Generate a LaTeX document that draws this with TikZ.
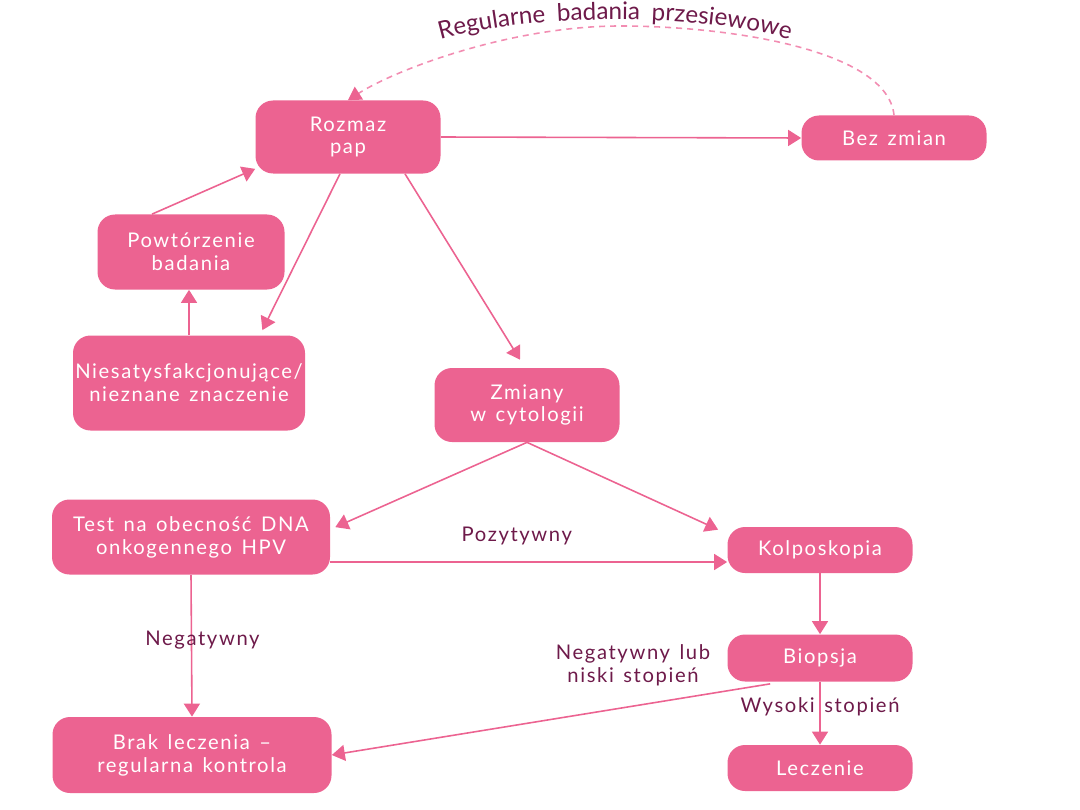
\documentclass[tikz,border=0pt]{standalone}
\usepackage{fontspec}
\setmainfont{Lato}[LetterSpace=8,WordSpace=1.4]
\usepackage{tikz}
\usetikzlibrary{arrows.meta, calc, decorations.text}
\definecolor{roz}{HTML}{EC6391}
\definecolor{rozjasny}{HTML}{F28DB2}
\definecolor{sliwka}{HTML}{6E1A4A}

\begin{document}
\begin{tikzpicture}[scale=1,
  box/.style={draw=none,fill=roz,rounded corners=0.35cm,text=white,align=center,
    font=\fontsize{11.5}{13}\selectfont,inner sep=0pt},
  strz/.style={roz,line width=0.9pt,-{Triangle[width=0.32cm,length=0.26cm]}},
  opis/.style={text=sliwka,align=center,font=\fontsize{11.5}{13}\selectfont}]
  \useasboundingbox (0,0) rectangle (21.6,-16.2);
  \node[box,minimum width=3.7cm,minimum height=1.46cm] (a) at (6.96,-2.74) {Rozmaz\\pap};
  \node[box,minimum width=3.7cm,minimum height=0.9cm] (b) at (17.88,-2.76) {Bez zmian};
  \node[box,minimum width=3.74cm,minimum height=1.5cm] (c) at (3.82,-5.04) {Powtórzenie\\badania};
  \node[box,minimum width=4.64cm,minimum height=1.9cm] (d) at (3.78,-7.66) {Niesatysfakcjonujące/\\nieznane znaczenie};
  \draw[strz] ([xshift=-0.78cm]c.north) -- ([yshift=0.1cm]a.south west);
  \draw[strz] (d.north) -- (d.north |- c.south);
  \draw[strz] ([xshift=-0.16cm]a.south) -- ([xshift=-0.86cm,yshift=0.1cm]d.north east);
  \draw[strz] (a.east) -- (b.west);
%--------------------------------------------------------------------------------
  \coordinate (m) at (12.4,-0.52);
  \draw[rozjasny,line width=0.9pt,dash pattern=on 0.12cm off 0.1cm,
    -{Triangle[width=0.3cm,length=0.26cm,color=roz]}]
    (b.north) .. controls (17.75,-1.0) and (14.6,-0.52) .. (m)
    .. controls (10.2,-0.52) and (7.9,-1.4) .. (a.north);
  \path[decorate,decoration={text along path,text align=center,text color=sliwka,
    text={|\fontsize{13.8}{16}\selectfont|Regularne badania przesiewowe}}]
    (8.1,-1.05) .. controls (9.9,-0.17) and (14.7,-0.17) .. (16.5,-1.05);
%--------------------------------------------------------------------------------
  \node[box,minimum width=3.7cm,minimum height=1.48cm] (e) at (10.54,-8.1) {Zmiany\\w cytologii};
  \draw[strz] ([xshift=1.14cm]a.south) -- ([xshift=-0.14cm,yshift=0.16cm]e.north);
  \node[box,minimum width=5.56cm,minimum height=1.5cm] (f) at (3.82,-10.74) {Test na obecność DNA\\onkogennego HPV};
  \node[box,minimum width=3.7cm,minimum height=0.92cm] (g) at (16.4,-11.0) {Kolposkopia};
  \draw[strz] (e.south) -- ([xshift=0.1cm,yshift=-0.56cm]f.north east);
  \draw[strz] (e.south) -- ([xshift=-0.18cm,yshift=-0.06cm]g.north west);
  \draw[strz] ([yshift=-0.5cm]f.east) -- ([yshift=-0.5cm]f.east -| g.west)
    node[opis,pos=0.47,above=0.2cm] {Pozytywny};
%--------------------------------------------------------------------------------
  \node[box,minimum width=3.7cm,minimum height=0.94cm] (h) at (16.4,-13.16) {Biopsja};
  \node[box,minimum width=5.58cm,minimum height=1.52cm] (i) at (3.84,-15.1) {Brak leczenia –\\regularna kontrola};
  \node[box,minimum width=3.7cm,minimum height=0.92cm] (j) at (16.4,-15.36) {Leczenie};
  \draw[strz] (f.south) -- (i.north) node[opis,pos=0.46,xshift=0.22cm] {Negatywny};
  \draw[strz] (g.south) -- (h.north);
  \draw[strz] ([xshift=0.86cm,yshift=-0.04cm]h.south west) -- (i.east);
  \node[opis] (k) at (12.66,-13.3) {Negatywny lub\\niski stopień};
  \draw[strz] (h.south) -- (j.north) node[opis,pos=0.4] {Wysoki stopień};
\end{tikzpicture}
\end{document}
